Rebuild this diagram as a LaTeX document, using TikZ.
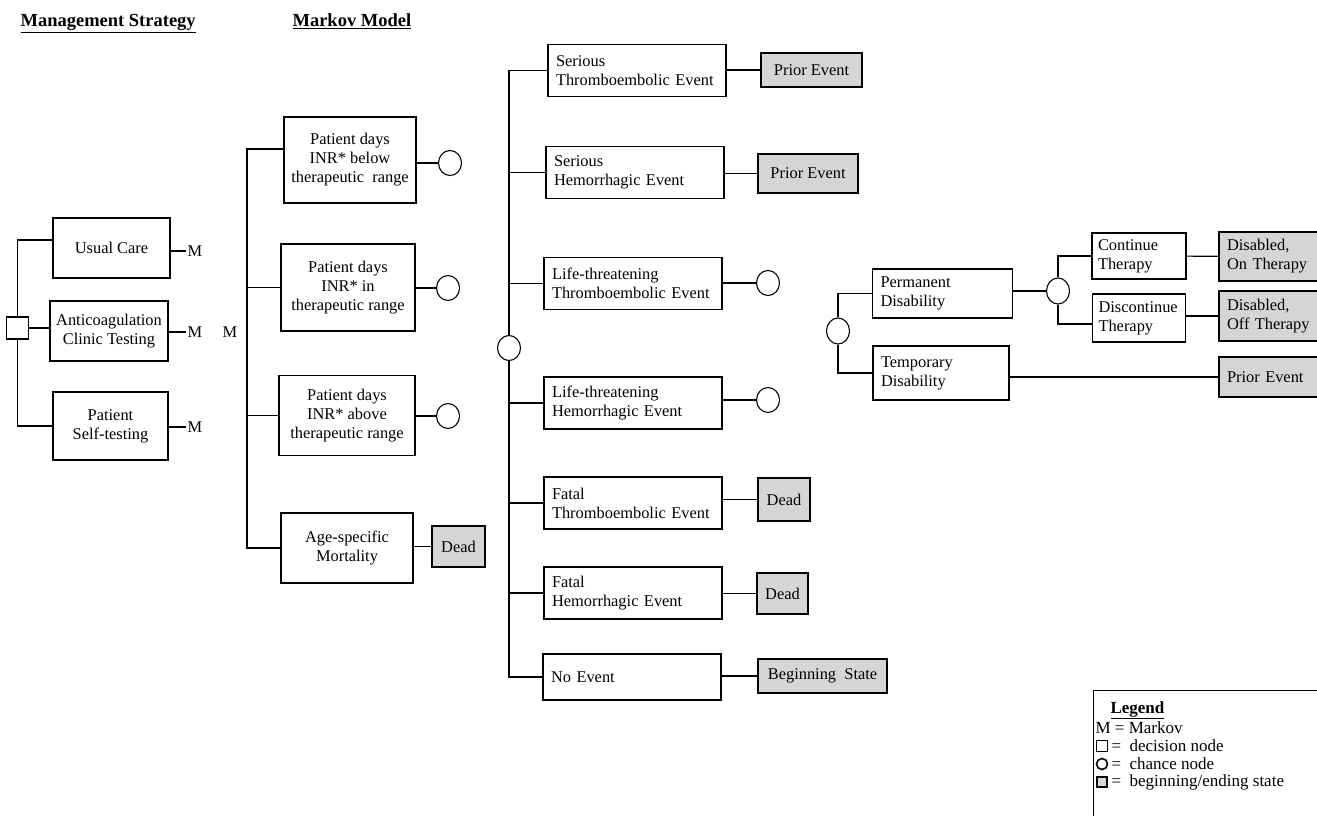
\documentclass[tikz,border=0pt]{standalone}
\usepackage{fontspec}
\setmainfont{Liberation Serif}
\usetikzlibrary{positioning,shapes.geometric}

\begin{document}
\begin{tikzpicture}[x=1pt, y=-1pt, line width=1.1pt,
  every node/.style={font=\fontsize{16.4}{19}\selectfont},
  head/.style={font=\fontsize{18.5}{22}\selectfont\bfseries, inner sep=0pt, anchor=base west},
  strat/.style={draw, align=center, inner sep=0pt, minimum width=#1},
  event/.style={draw, align=left, text width=162pt, inner xsep=8pt, inner ysep=0pt, minimum height=52pt},
  endstate/.style={draw, fill=gray!33, align=left, inner xsep=7pt, inner ysep=0pt},
  chance/.style={draw, ellipse, minimum width=23pt, minimum height=25pt, inner sep=0pt},
  decision/.style={draw, minimum size=22pt, inner sep=0pt},
  mlab/.style={inner sep=1pt, anchor=west},
  dis/.style={draw, align=left, text width=#1, inner xsep=7pt, inner ysep=0pt},
  lgtext/.style={anchor=west, inner sep=0pt, font=\fontsize{17}{18}\selectfont}
]
  \useasboundingbox (0,0) rectangle (1317,816);
  \clip (0,0) rectangle (1317,816);

  \node[head] (hstrat) at (20,27) {\underline{Management Strategy}};
  \node[head] (hmarkov) at (292,27) {\underline{Markov Model}};

  % management strategy
  \node[decision] (dec) at (17.5,328) {};
  \node[strat=117pt, minimum height=60pt] (usual) at (111.5,248) {Usual Care};
  \node[strat=118pt, minimum height=60pt] (anti) at (109,331) {Anticoagulation\\Clinic Testing};
  \node[strat=115pt, minimum height=68pt] (self) at (110.5,426) {Patient\\Self-testing};
  \node[mlab] (musual) at (186,251) {M};
  \node[mlab] (manti) at (186,332) {M};
  \node[mlab] (mself) at (186,427) {M};
  \node (mmodel) at (230,332) {M};

  \draw (dec) |- ([yshift=8pt]usual.west);
  \draw (dec.east) -- (dec.east -| anti.west);
  \draw (dec) |- (self);
  \draw (usual.east |- musual) -- (musual);
  \draw (anti.east |- manti) -- (manti);
  \draw (self.east |- mself) -- (mself);

  % markov states
  \coordinate (mk) at (247,347);
  \node[strat=132pt, minimum height=86pt] (below) at (350,160) {Patient days\\INR* below\\therapeutic\ \ range};
  \node[strat=134pt, minimum height=87pt] (inrange) at (348,287.5) {Patient days\\INR* in\\therapeutic range};
  \node[strat=136pt, minimum height=80pt] (above) at (347,415.5) {Patient days\\INR* above\\therapeutic range};
  \node[strat=132pt, minimum height=70pt] (age) at (347,548) {Age-specific\\Mortality};
  \node[chance] (cbelow) at (450,163) {};
  \node[chance] (cin) at (448,288) {};
  \node[chance] (cabove) at (448,416) {};
  \node[endstate, align=center, minimum width=53pt, minimum height=41pt] (agedead) at (458.5,546.5) {Dead};

  \draw (mk) |- ([yshift=11pt]below.west);
  \draw (mk) |- (inrange);
  \draw (mk) |- (above);
  \draw (mk) |- (age);
  \draw (below.east |- cbelow) -- (cbelow);
  \draw (inrange.east |- cin) -- (cin);
  \draw (above.east |- cabove) -- (cabove);
  \draw (age.east |- agedead) -- (agedead);

  % events
  \node[chance] (ev) at (509,348) {};
  \node[event] (sthr) at (637,70.5) {Serious\\Thromboembolic Event};
  \node[event] (shem) at (635,172.5) {Serious\\Hemorrhagic Event};
  \node[event] (lthr) at (633,283.5) {Life-threatening\\Thromboembolic Event};
  \node[event] (lhem) at (633,403) {Life-threatening\\Hemorrhagic Event};
  \node[event] (fthr) at (633,503) {Fatal\\Thromboembolic Event};
  \node[event] (fhem) at (633,593) {Fatal\\Hemorrhagic Event};
  \node[event, minimum height=46pt] (noev) at (632,677) {No Event};

  \node[endstate, minimum width=101pt, minimum height=34pt] (sthrp) at (811.5,70) {Prior Event};
  \node[endstate, minimum width=100pt, minimum height=39pt] (shemp) at (808,173.5) {Prior Event};
  \node[chance] (lthrc) at (768,283) {};
  \node[chance] (lhemc) at (768,400) {};
  \node[endstate, align=center, minimum width=52pt, minimum height=43pt] (fthrd) at (784,499.5) {Dead};
  \node[endstate, align=center, minimum width=51pt, minimum height=41pt] (fhemd) at (782.5,593.5) {Dead};
  \node[endstate, minimum width=129pt, minimum height=34pt] (noevb) at (822.5,676) {Beginning\ \ State};

  \foreach \b in {sthr,shem,lthr,lhem,fthr,fhem,noev}
    \draw (ev) |- (\b);
  \foreach \a/\b in {sthr/sthrp, shem/shemp, lthr/lthrc, lhem/lhemc, fthr/fthrd, fhem/fhemd, noev/noevb}
    \draw (\a.east |- \b) -- (\b);

  % disability
  \node[chance, minimum height=26pt] (cdis) at (838,331) {};
  \node[dis=124pt, inner xsep=8pt, minimum height=49pt] (perm) at (942.5,293.5) {Permanent\\Disability};
  \node[dis=120pt, inner xsep=8pt, minimum height=54pt] (temp) at (941,373) {Temporary\\Disability};
  \node[chance, minimum height=26pt] (cther) at (1058,291) {};
  \node[dis=82pt, inner xsep=6pt, minimum height=46pt] (cont) at (1139,256) {Continue\\Therapy};
  \node[dis=81pt, inner xsep=6pt, minimum height=48pt] (disc) at (1139,318) {Discontinue\\Therapy};
  \node[endstate, text width=96pt, inner xsep=8pt, minimum height=49pt] (don) at (1275,256.5) {Disabled,\\On Therapy};
  \node[endstate, text width=96pt, inner xsep=8pt, minimum height=50pt] (doff) at (1275,316) {Disabled,\\Off Therapy};
  \node[endstate, text width=96pt, inner xsep=8pt, minimum height=40pt] (tprior) at (1275,377) {Prior Event};

  \draw (cdis) |- (perm);
  \draw (cdis) |- (temp);
  \draw (perm.east |- cther) -- (cther);
  \draw (cther) |- (cont);
  \draw (cther) |- ([yshift=-6pt]disc.west);
  \draw (cont) -- (don);
  \draw (disc.east |- doff) -- (doff);
  \draw (temp.east |- tprior) -- (tprior);

  % legend
  \node[draw, anchor=north west, minimum width=240pt, minimum height=140pt] (legend) at (1093,690) {};
  \node[lgtext, font=\fontsize{17}{18}\selectfont\bfseries] (lgtitle) at (1110,710) {\underline{Legend}};
  \node[lgtext] (lgm) at (1095,728) {M = Markov};
  \node[decision, minimum size=11pt] (lgdec) at (1102,746) {};
  \node[lgtext] (lgdect) at (1111,746) {=\ \ decision node};
  \node[draw, circle, minimum size=11pt, inner sep=0pt, line width=1.6pt] (lgch) at (1102,764) {};
  \node[lgtext] (lgcht) at (1111,764) {=\ \ chance node};
  \node[draw, fill=gray!33, minimum size=10pt, inner sep=0pt] (lgend) at (1102,782) {};
  \node[lgtext] (lgendt) at (1111,782) {=\ \ beginning/ending state};
\end{tikzpicture}
\end{document}
